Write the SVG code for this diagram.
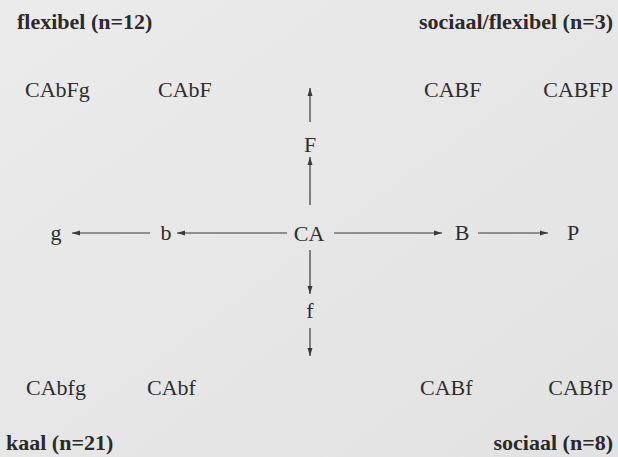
<svg xmlns="http://www.w3.org/2000/svg" width="618" height="457" viewBox="0 0 618 457">
  <defs>
    <linearGradient id="bg" x1="0" y1="0" x2="1" y2="1">
      <stop offset="0" stop-color="#ebebeb"/>
      <stop offset="1" stop-color="#e2e2e2"/>
    </linearGradient>
    <marker id="ah" markerUnits="userSpaceOnUse" markerWidth="8" markerHeight="6" refX="8" refY="3" orient="auto">
      <path d="M0,0.5 L8,3 L0,5.5 z" fill="#3a3a3a"/>
    </marker>
    <style>
      .h { font-family: "Liberation Serif", "Times New Roman", serif; font-weight: bold; font-size: 22px; fill: #2a2a2a; }
      .l { font-family: "Liberation Serif", "Times New Roman", serif; font-size: 22px; fill: #2e2e2e; }
      .c { stroke: #3a3a3a; stroke-width: 1.2; fill: none; marker-end: url(#ah); }
    </style>
  </defs>
  <rect width="618" height="457" fill="url(#bg)"/>

  <g id="connectors">
    <line class="c" x1="310" y1="205" x2="310" y2="157"/>
    <line class="c" x1="310" y1="122" x2="310" y2="88"/>
    <line class="c" x1="287" y1="233" x2="177" y2="233"/>
    <line class="c" x1="150" y1="233" x2="72" y2="233"/>
    <line class="c" x1="334" y1="233" x2="442" y2="233"/>
    <line class="c" x1="478" y1="233" x2="548" y2="233"/>
    <line class="c" x1="310" y1="250" x2="310" y2="294"/>
    <line class="c" x1="310" y1="328" x2="310" y2="356"/>
  </g>

  <g id="quadrant-flexibel">
    <text class="h" x="17" y="29">flexibel (n=12)</text>
  </g>
  <g id="quadrant-sociaal-flexibel">
    <text class="h" x="613" y="29" text-anchor="end">sociaal/flexibel (n=3)</text>
  </g>
  <g id="quadrant-kaal">
    <text class="h" x="6" y="450">kaal (n=21)</text>
  </g>
  <g id="quadrant-sociaal">
    <text class="h" x="613" y="450" text-anchor="end">sociaal (n=8)</text>
  </g>

  <g id="node-CAbFg"><text class="l" x="25" y="97">CAbFg</text></g>
  <g id="node-CAbF"><text class="l" x="158" y="97">CAbF</text></g>
  <g id="node-CABF"><text class="l" x="424" y="97">CABF</text></g>
  <g id="node-CABFP"><text class="l" x="613" y="97" text-anchor="end">CABFP</text></g>

  <g id="node-F"><text class="l" x="310" y="152" text-anchor="middle">F</text></g>
  <g id="node-CA"><text class="l" x="309" y="241" text-anchor="middle">CA</text></g>
  <g id="node-g"><text class="l" x="56" y="240" text-anchor="middle">g</text></g>
  <g id="node-b"><text class="l" x="166" y="240" text-anchor="middle">b</text></g>
  <g id="node-B"><text class="l" x="462" y="240" text-anchor="middle">B</text></g>
  <g id="node-P"><text class="l" x="573" y="240" text-anchor="middle">P</text></g>
  <g id="node-f"><text class="l" x="310" y="318" text-anchor="middle">f</text></g>

  <g id="node-CAbfg"><text class="l" x="26" y="395">CAbfg</text></g>
  <g id="node-CAbf"><text class="l" x="147" y="395">CAbf</text></g>
  <g id="node-CABf"><text class="l" x="420" y="395">CABf</text></g>
  <g id="node-CABfP"><text class="l" x="613" y="395" text-anchor="end">CABfP</text></g>
</svg>
